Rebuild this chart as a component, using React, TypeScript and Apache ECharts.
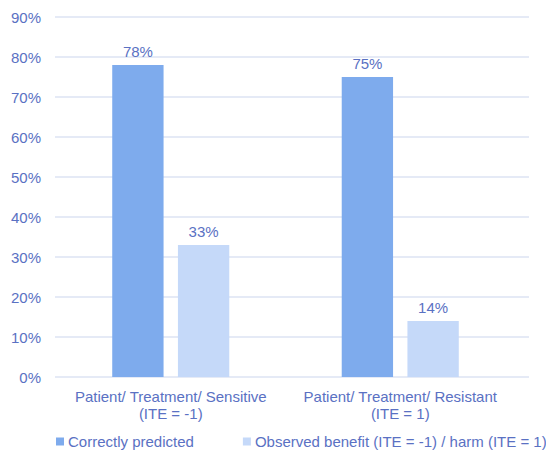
import React, { useEffect, useRef } from "react";
import * as echarts from "echarts";

const categories = ["Patient/ Treatment/ Sensitive\n(ITE = -1)", "Patient/ Treatment/ Resistant\n(ITE = 1)"];
const correctlyPredicted = [78, 75];
const observedBenefit = [33, 14];
const seriesNames = ["Correctly predicted", "Observed benefit (ITE = -1) / harm (ITE = 1)"];
const yMin = 0;
const yMax = 90;
const yStep = 10;

const textColor = "#5a71c3";
const gridColor = "#dde3f3";

export default function App() {
  const ref = useRef<HTMLDivElement>(null);
  useEffect(() => {
    const chart = echarts.init(ref.current!, null, { renderer: "svg" });
    const labelCfg = {
      show: true,
      position: "top",
      formatter: "{c}%",
      color: textColor,
      fontSize: 15,
      distance: 6,
    };
    chart.setOption({
      animation: false,
      textStyle: { fontFamily: "Liberation Sans, Arial, sans-serif" },
      grid: [
        { left: 55, right: 17, top: 17, bottom: 76 },
        { left: 56, right: 31, top: 17, bottom: 76 },
      ],
      legend: {
        top: 434,
        left: 56,
        width: 540,
        padding: 0,
        itemWidth: 8,
        itemHeight: 8,
        itemGap: 49,
        icon: "rect",
        textStyle: { color: textColor, fontSize: 15, padding: [0, 0, 0, -1] },
        data: seriesNames,
      },
      xAxis: [
        {
          type: "category",
          gridIndex: 0,
          data: categories,
          show: false,
        },
        {
          type: "category",
          gridIndex: 1,
          data: categories,
          axisLine: { show: false },
          axisTick: { show: false },
          axisLabel: { color: textColor, fontSize: 15, lineHeight: 17, margin: 11, interval: 0 },
        },
      ],
      yAxis: [
        {
          type: "value",
          gridIndex: 0,
          min: yMin,
          max: yMax,
          interval: yStep,
          axisLabel: { formatter: "{value}%", color: textColor, fontSize: 15, margin: 14 },
          splitLine: { lineStyle: { color: gridColor, width: 1.5 } },
          axisLine: { show: false },
          axisTick: { show: false },
        },
        {
          type: "value",
          gridIndex: 1,
          min: yMin,
          max: yMax,
          interval: yStep,
          show: false,
          splitLine: { show: false },
        },
      ],
      series: [
        {
          name: seriesNames[0],
          type: "bar",
          xAxisIndex: 1,
          yAxisIndex: 1,
          data: correctlyPredicted,
          barGap: "28%",
          barCategoryGap: "49%",
          itemStyle: { color: "#7eabed" },
          label: labelCfg,
        },
        {
          name: seriesNames[1],
          type: "bar",
          xAxisIndex: 1,
          yAxisIndex: 1,
          data: observedBenefit,
          itemStyle: { color: "#c5d9f9" },
          label: labelCfg,
        },
      ],
    });
    return () => chart.dispose();
  }, []);
  return <div ref={ref} style={{ width: 546, height: 453, position: "absolute", left: 0, top: 0 }} />;
}
